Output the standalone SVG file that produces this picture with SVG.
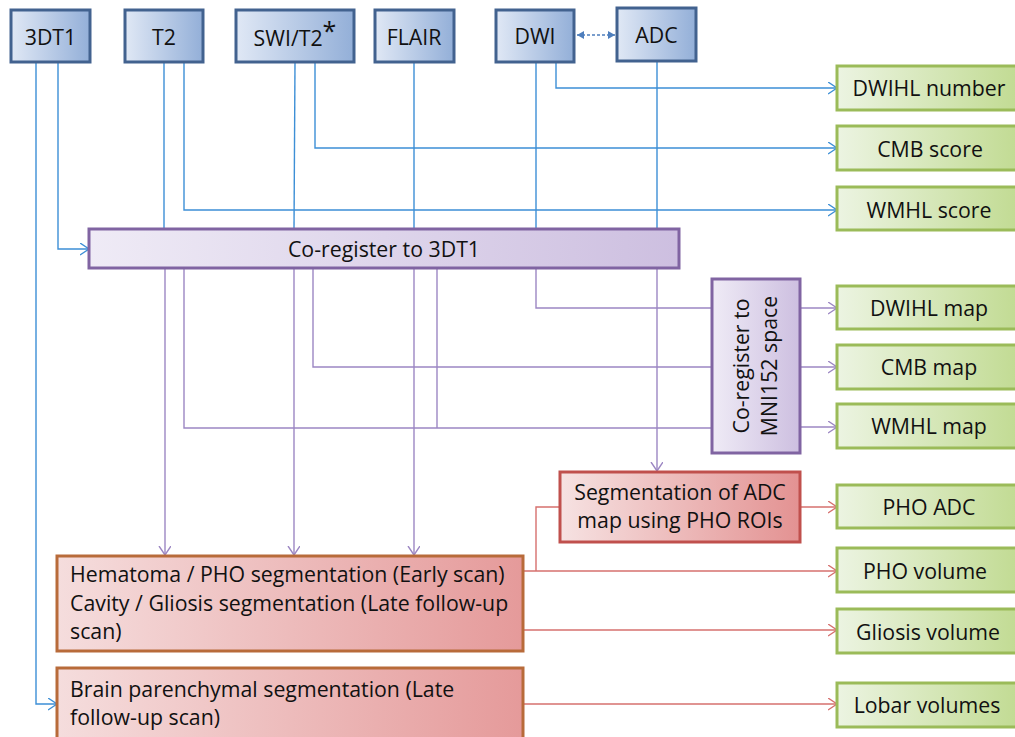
<svg xmlns="http://www.w3.org/2000/svg" width="1015" height="737" viewBox="0 0 1015 737">
<style>
text{font-family:"Open Sans","Liberation Sans",sans-serif;font-size:21.3px;fill:#111}
.c{text-anchor:middle}
.blue{fill:url(#gB);stroke:#42628f;stroke-width:3}
.green{fill:url(#gG);stroke:#9bbb59;stroke-width:3}
.purp{fill:url(#gP);stroke:#8064a2;stroke-width:3}
.red{fill:url(#gR);stroke:#c0504d;stroke-width:3}
.org{fill:url(#gO);stroke:#b86b3a;stroke-width:3}
.lb{fill:none;stroke:#3d8fd6;stroke-width:1.4}
.lp{fill:none;stroke:#9c87c3;stroke-width:1.4}
.lr{fill:none;stroke:#d6706e;stroke-width:1.4}
</style>
<defs>
<linearGradient id="gB" x1="0" y1="0" x2="1" y2="0"><stop offset="0" stop-color="#e0e8f5"/><stop offset="1" stop-color="#93afd8"/></linearGradient>
<linearGradient id="gG" x1="0" y1="0" x2="1" y2="0"><stop offset="0" stop-color="#ecf4e2"/><stop offset="1" stop-color="#c0da90"/></linearGradient>
<linearGradient id="gP" x1="0" y1="0" x2="1" y2="0"><stop offset="0" stop-color="#efebf6"/><stop offset="1" stop-color="#cdbfe0"/></linearGradient>
<linearGradient id="gR" x1="0" y1="0" x2="1" y2="0"><stop offset="0" stop-color="#f6e2e2"/><stop offset="1" stop-color="#e39292"/></linearGradient>
<linearGradient id="gO" x1="0" y1="0" x2="1" y2="0"><stop offset="0" stop-color="#f5dddd"/><stop offset="1" stop-color="#e59a9a"/></linearGradient>
<marker id="aB" markerUnits="userSpaceOnUse" markerWidth="12" markerHeight="14" refX="9" refY="6" orient="auto"><path d="M0,0 L9,6 L0,12" fill="none" stroke="#3d8fd6" stroke-width="1.4"/></marker>
<marker id="aP" markerUnits="userSpaceOnUse" markerWidth="12" markerHeight="14" refX="9" refY="6" orient="auto"><path d="M0,0 L9,6 L0,12" fill="none" stroke="#9c87c3" stroke-width="1.4"/></marker>
<marker id="aR" markerUnits="userSpaceOnUse" markerWidth="12" markerHeight="14" refX="9" refY="6" orient="auto"><path d="M0,0 L9,6 L0,12" fill="none" stroke="#d6706e" stroke-width="1.4"/></marker>
<marker id="aD" markerUnits="userSpaceOnUse" markerWidth="10" markerHeight="10" refX="7" refY="4" orient="auto-start-reverse"><path d="M0,0 L7,4 L0,8 Z" fill="#4f7fbd"/></marker>
</defs>

<g id="connectors">
<!-- blue -->
<path class="lb" d="M36,62 V704 H57" marker-end="url(#aB)"/>
<path class="lb" d="M58,62 V249 H89" marker-end="url(#aB)"/>
<path class="lb" d="M164,62 V229"/>
<path class="lb" d="M184,62 V210 H837" marker-end="url(#aB)"/>
<path class="lb" d="M295,62 L294,229"/>
<path class="lb" d="M315,62 V148 H837" marker-end="url(#aB)"/>
<path class="lb" d="M414,62 V229"/>
<path class="lb" d="M536,62 V229"/>
<path class="lb" d="M556,62 V88 H837" marker-end="url(#aB)"/>
<path class="lb" d="M657,61 V229"/>
<path d="M577,35 H615" fill="none" stroke="#4f7fbd" stroke-width="1.4" stroke-dasharray="3,2" marker-start="url(#aD)" marker-end="url(#aD)"/>
<!-- purple -->
<path class="lp" d="M165,268 V555" marker-end="url(#aP)"/>
<path class="lp" d="M294,268 V555" marker-end="url(#aP)"/>
<path class="lp" d="M414,268 V555" marker-end="url(#aP)"/>
<path class="lp" d="M184,268 V428 H712"/>
<path class="lp" d="M437,268 V428"/>
<path class="lp" d="M313,268 V367 H712"/>
<path class="lp" d="M536,268 V308 H712"/>
<path class="lp" d="M657,268 V471" marker-end="url(#aP)"/>
<path class="lp" d="M800,308 H837" marker-end="url(#aP)"/>
<path class="lp" d="M800,367 H837" marker-end="url(#aP)"/>
<path class="lp" d="M800,427 H837" marker-end="url(#aP)"/>
<!-- red -->
<path class="lr" d="M800,507 H837" marker-end="url(#aR)"/>
<path class="lr" d="M560,507 H536 V571"/>
<path class="lr" d="M523,571 H837" marker-end="url(#aR)"/>
<path class="lr" d="M523,630 H837" marker-end="url(#aR)"/>
<path class="lr" d="M523,704 H837" marker-end="url(#aR)"/>
</g>

<g id="n-3dt1"><rect class="blue" x="11" y="10" width="79" height="52"/><text class="c" x="50.5" y="45">3DT1</text></g>
<g id="n-t2"><rect class="blue" x="125" y="10" width="78" height="52"/><text class="c" x="164" y="45">T2</text></g>
<g id="n-swi"><rect class="blue" x="236" y="10" width="118" height="52"/><text class="c" x="295" y="46">SWI/T2<tspan font-size="25" dy="-6">*</tspan></text></g>
<g id="n-flair"><rect class="blue" x="375" y="10" width="79" height="52"/><text class="c" x="414" y="45">FLAIR</text></g>
<g id="n-dwi"><rect class="blue" x="496" y="10" width="78" height="52"/><text class="c" x="535" y="44">DWI</text></g>
<g id="n-adc"><rect class="blue" x="617" y="8" width="79" height="53"/><text class="c" x="656.5" y="43">ADC</text></g>

<g id="n-coreg"><rect class="purp" x="89" y="229" width="590" height="39"/><text class="c" x="384" y="257">Co-register to 3DT1</text></g>
<g id="n-mni"><rect class="purp" x="712" y="279" width="88" height="174"/>
<text class="c" transform="translate(749,366) rotate(-90)">Co-register to</text>
<text class="c" transform="translate(777,366) rotate(-90)">MNI152 space</text></g>

<g id="n-segadc"><rect class="red" x="560" y="472" width="240" height="70"/>
<text class="c" x="680" y="500">Segmentation of ADC</text><text class="c" x="680" y="528">map using PHO ROIs</text></g>

<g id="n-hema"><rect class="org" x="57" y="556" width="466" height="95"/>
<text x="70" y="582">Hematoma / PHO segmentation (Early scan)</text>
<text x="70" y="611">Cavity / Gliosis segmentation (Late follow-up</text>
<text x="70" y="639">scan)</text></g>
<g id="n-brain"><rect class="org" x="57" y="668" width="466" height="80"/>
<text x="70" y="697">Brain parenchymal segmentation (Late</text>
<text x="70" y="725">follow-up scan)</text></g>

<g id="n-dwihlnum"><rect class="green" x="837" y="66" width="188" height="44"/><text class="c" x="929" y="96">DWIHL number</text></g>
<g id="n-cmbscore"><rect class="green" x="837" y="126" width="188" height="44"/><text class="c" x="930" y="157">CMB score</text></g>
<g id="n-wmhlscore"><rect class="green" x="837" y="187" width="188" height="43"/><text class="c" x="929" y="218">WMHL score</text></g>
<g id="n-dwihlmap"><rect class="green" x="837" y="286" width="188" height="43"/><text class="c" x="929" y="316">DWIHL map</text></g>
<g id="n-cmbmap"><rect class="green" x="837" y="345" width="188" height="44"/><text class="c" x="929" y="375">CMB map</text></g>
<g id="n-wmhlmap"><rect class="green" x="837" y="404" width="188" height="44"/><text class="c" x="929" y="434">WMHL map</text></g>
<g id="n-phoadc"><rect class="green" x="837" y="485" width="188" height="43"/><text class="c" x="929" y="515">PHO ADC</text></g>
<g id="n-phovol"><rect class="green" x="837" y="548" width="188" height="44"/><text class="c" x="925" y="579">PHO volume</text></g>
<g id="n-gliosis"><rect class="green" x="837" y="609" width="188" height="44"/><text class="c" x="928" y="640">Gliosis volume</text></g>
<g id="n-lobar"><rect class="green" x="837" y="683" width="188" height="44"/><text class="c" x="927" y="713">Lobar volumes</text></g>
</svg>
